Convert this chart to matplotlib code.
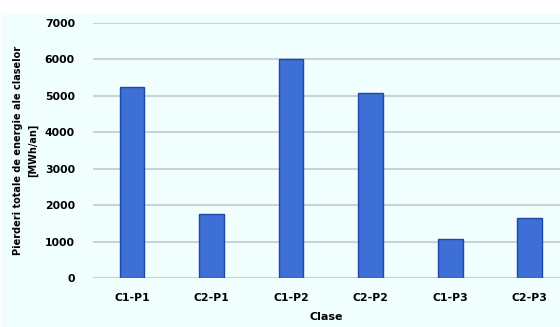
import matplotlib.pyplot as plt
from matplotlib.patches import Rectangle

categories = ["C1-P1", "C2-P1", "C1-P2", "C2-P2", "C1-P3", "C2-P3"]
values = [5230, 1770, 6000, 5090, 1060, 1660]
yticks = [0, 1000, 2000, 3000, 4000, 5000, 6000, 7000]

fig = plt.figure(figsize=(5.6, 3.27), dpi=100)
# light background panel under the white top strip
fig.patches.append(Rectangle((0.002, 0), 0.998, 1 - 13 / 327, transform=fig.transFigure,
                             facecolor="#F1FEFE", edgecolor="none", zorder=-1))

ax = fig.add_axes([93 / 560, 1 - 278 / 327, 1 - 93 / 560, 255 / 327])
ax.set_facecolor("none")

x = range(len(categories))
ax.bar(x, values, width=0.31, color="#3D6FD7", edgecolor="#1E47A6", linewidth=1.0, zorder=3)

ax.set_ylim(0, 7000)
ax.set_xlim(-0.49, 5.38)
ax.set_yticks(yticks)
ax.set_xticks(list(x))
ax.set_xticklabels(categories)
ax.yaxis.grid(True, color="#C9D1DD", linewidth=1.5, zorder=0)
ax.set_axisbelow(True)
for s in ax.spines.values():
    s.set_visible(False)
ax.tick_params(length=0, labelsize=7.8)
ax.tick_params(axis="y", pad=13)
ax.tick_params(axis="x", pad=11)
for lab in ax.get_xticklabels() + ax.get_yticklabels():
    lab.set_fontweight("bold")

ax.set_xlabel("Clase", fontsize=8, fontweight="bold", labelpad=6)
ax.set_ylabel("Pierderi totale de energie ale claselor\n[MWh/an]", fontsize=7,
              fontweight="bold", labelpad=5, linespacing=1.6)

fig.savefig("out.png", dpi=100)
